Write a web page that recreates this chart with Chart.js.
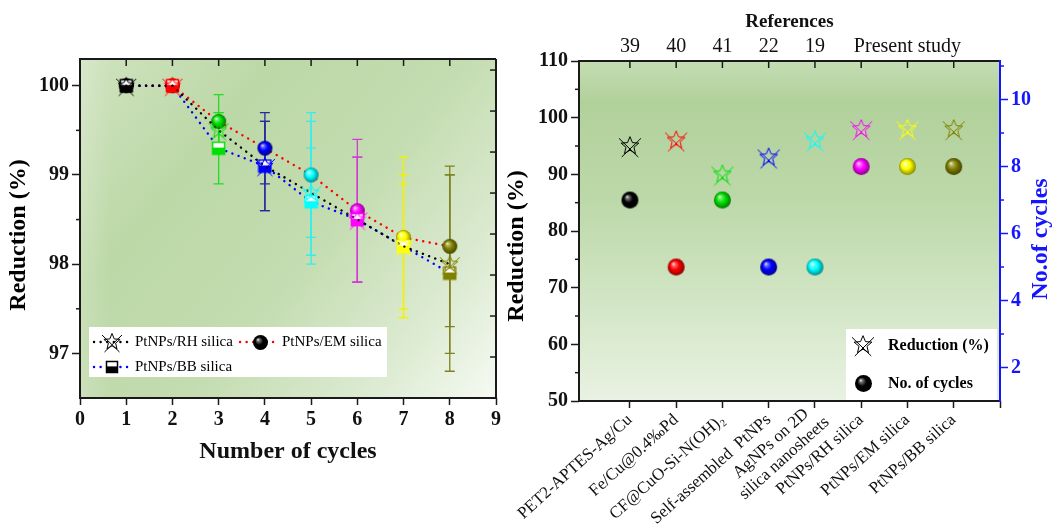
<!DOCTYPE html>
<html>
<head>
<meta charset="utf-8">
<script src="https://cdn.jsdelivr.net/npm/chart.js@4.4.1/dist/chart.umd.min.js"></script>
<style>
  html, body { margin: 0; padding: 0; background: #fff; }
  #wrap { position: relative; width: 1057px; height: 527px; overflow: hidden; }
  #cyc { position: absolute; left: 0; top: 0; }
  #refs { position: absolute; left: 440px; top: 0; }
</style>
</head>
<body>
<div id="wrap">
  <canvas id="cyc" width="520" height="527"></canvas>
  <canvas id="refs" width="617" height="527"></canvas>
</div>
<script>
// ---- reusability runs ----
const cycles = [1, 2, 3, 4, 5, 6, 7, 8];
const rhSilica = [100, 100, 99.5, 99.1, 98.8, 98.5, 98.2, 98.0];
const emSilica = [100, 100, 99.6, 99.3, 99.0, 98.6, 98.3, 98.2];
const bbSilica = [100, 100, 99.3, 99.1, 98.7, 98.5, 98.2, 97.9];
const rhErr = [0, 0, 0.2, 0.5, 0.8, 0.7, 0.8, 1.0];
const emErr = [0, 0, 0.3, 0.4, 0.7, 0.8, 0.9, 0.9];
const bbErr = [0, 0, 0.4, 0.5, 0.6, 0.7, 0.7, 1.1];
const cycleTicks = [0, 1, 2, 3, 4, 5, 6, 7, 8, 9];
const reductionTicks = [97, 98, 99, 100];
const reductionMinor = [97.5, 98.5, 99.5];
const mirrorTicks = [1, 2, 3, 4, 5, 6, 7, 8];

// ---- comparison with other catalysts ----
const catalysts = [
  'PET2-APTES-Ag/Cu',
  'Fe/Cu@0.4\u2030Pd',
  'CF@CuO-Si-N(OH)\u2082',
  'Self-assembled  PtNPs',
  ['AgNPs on 2D', 'silica nanosheets'],
  'PtNPs/RH silica',
  'PtNPs/EM silica',
  'PtNPs/BB silica'
];
const refNumbers = ['39', '40', '41', '22', '19', '', 'Present study', ''];
const reductionPct = [95, 96, 90, 93, 96, 98, 98, 98];
const cyclesUsed = [7, 5, 7, 5, 5, 8, 8, 8];
const slotTicks = [1, 2, 3, 4, 5, 6, 7, 8, 9];
const pctTicks = [50, 60, 70, 80, 90, 100, 110];
const pctMinor = [55, 65, 75, 85, 95, 105];
const countTicks = [2, 4, 6, 8, 10];
const countMinor = [3, 5, 7, 9, 11];

const pointColors = ['#000000', '#ff0000', '#00e000', '#0000ff', '#00ffff', '#ff00ff', '#ffff00', '#808000'];
const errorColors = ['#000000', '#ff0000', '#22dd22', '#2a2a9c', '#33eeee', '#d23cd2', '#f2f200', '#808020'];
const SERIF = "'Liberation Serif', 'Times New Roman', serif";
const AXIS_BLUE = '#1515ff';
const LABEL_ROT = 42;

// ---------- marker images ----------
function mix(hex, other, t) {
  const a = parseInt(hex.slice(1), 16), b = parseInt(other.slice(1), 16);
  const out = [16, 8, 0].map(s => {
    const p = (a >> s) & 255, q = (b >> s) & 255;
    return Math.round(p + (q - p) * t);
  });
  return 'rgb(' + out.join(',') + ')';
}

function sphere(color, r) {
  const c = document.createElement('canvas');
  const s = Math.ceil(r * 2 + 2);
  c.width = c.height = s;
  const g = c.getContext('2d');
  const m = s / 2;
  const grad = g.createRadialGradient(m - r * 0.35, m - r * 0.4, 0, m, m, r * 1.05);
  grad.addColorStop(0, '#ffffff');
  grad.addColorStop(0.18, mix(color, '#ffffff', 0.45));
  grad.addColorStop(0.5, color);
  grad.addColorStop(1, mix(color, '#000000', 0.5));
  g.fillStyle = grad;
  g.beginPath();
  g.arc(m, m, r, 0, Math.PI * 2);
  g.fill();
  return c;
}

function star(color, r) {
  const c = document.createElement('canvas');
  const s = Math.ceil(r * 2 + 4);
  c.width = c.height = s;
  const g = c.getContext('2d');
  const m = s / 2;
  g.strokeStyle = color;
  g.lineWidth = 1;
  g.beginPath();
  for (let k = 0; k <= 10; k++) {
    const ang = -Math.PI / 2 + k * Math.PI / 5;
    const rad = k % 2 ? r * 0.38 : r * 0.85;
    const px = m + Math.cos(ang) * rad, py = m + Math.sin(ang) * rad;
    if (k === 0) g.moveTo(px, py); else g.lineTo(px, py);
  }
  g.stroke();
  g.beginPath();
  g.moveTo(m - r, m - r * 0.7); g.lineTo(m + r * 0.75, m + r);
  g.moveTo(m + r, m - r * 0.7); g.lineTo(m - r * 0.75, m + r);
  g.stroke();
  return c;
}

function halfSquare(color, side) {
  const c = document.createElement('canvas');
  const s = side + 2;
  c.width = c.height = s;
  const g = c.getContext('2d');
  g.fillStyle = '#ffffff';
  g.fillRect(1, 1, side, side);
  g.fillStyle = color;
  g.fillRect(1, 1 + side * 0.45, side, side * 0.55);
  g.strokeStyle = color;
  g.lineWidth = 1.5;
  g.strokeRect(1.5, 1.5, side - 1, side - 1);
  return c;
}

// ---------- shared drawing helpers ----------
function tickMarks(chart, list) {
  const { ctx, chartArea: a } = chart;
  list.forEach(t => {
    const sc = chart.scales[t.axis];
    ctx.save();
    ctx.strokeStyle = t.color || '#1a1a1a';
    ctx.lineWidth = 1.5;
    t.values.forEach(v => {
      const p = sc.getPixelForValue(v);
      ctx.beginPath();
      if (t.side === 'top') { ctx.moveTo(p, a.top); ctx.lineTo(p, a.top + t.len); }
      if (t.side === 'bottom') { ctx.moveTo(p, a.bottom); ctx.lineTo(p, a.bottom - t.len); }
      if (t.side === 'left') { ctx.moveTo(a.left, p); ctx.lineTo(a.left + t.len, p); }
      if (t.side === 'right') { ctx.moveTo(a.right, p); ctx.lineTo(a.right - t.len, p); }
      ctx.stroke();
    });
    ctx.restore();
  });
}

function edge(ctx, x1, y1, x2, y2, color) {
  ctx.save();
  ctx.strokeStyle = color;
  ctx.lineWidth = 2;
  ctx.beginPath();
  ctx.moveTo(x1, y1);
  ctx.lineTo(x2, y2);
  ctx.stroke();
  ctx.restore();
}

function vTitle(ctx, text, x, y, color) {
  ctx.save();
  ctx.translate(x, y);
  ctx.rotate(-Math.PI / 2);
  ctx.font = 'bold 24px ' + SERIF;
  ctx.fillStyle = color;
  ctx.textAlign = 'center';
  ctx.textBaseline = 'middle';
  ctx.fillText(text, 0, 0);
  ctx.restore();
}

function dotted(ctx, x1, x2, y, color) {
  ctx.save();
  ctx.strokeStyle = color;
  ctx.lineWidth = 2.4;
  ctx.lineCap = 'round';
  ctx.setLineDash([0.1, 6.5]);
  ctx.beginPath();
  ctx.moveTo(x1, y);
  ctx.lineTo(x2, y);
  ctx.stroke();
  ctx.restore();
}

function place(ctx, img, x, y) {
  ctx.drawImage(img, Math.round(x - img.width / 2), Math.round(y - img.height / 2));
}

// ---------- left panel: reduction vs cycle ----------
const cycleDecor = {
  id: 'cycleDecor',
  beforeDraw(chart) {
    const { ctx, chartArea: a } = chart;
    const g = ctx.createLinearGradient(a.left, a.top, a.right, a.bottom);
    g.addColorStop(0, '#cfe3c0');
    g.addColorStop(0.28, '#bdd8a7');
    g.addColorStop(0.55, '#c3dcb0');
    g.addColorStop(0.8, '#dbead0');
    g.addColorStop(1, '#f6faf3');
    ctx.fillStyle = g;
    ctx.fillRect(a.left, a.top, a.width, a.height);
    const h = ctx.createLinearGradient(a.left, 0, a.left + 30, 0);
    h.addColorStop(0, 'rgba(255,255,255,0.18)');
    h.addColorStop(1, 'rgba(255,255,255,0)');
    ctx.fillStyle = h;
    ctx.fillRect(a.left, a.top, 30, a.height);
  },
  beforeDatasetsDraw(chart) {
    const { ctx } = chart;
    const xs = chart.scales.x, ys = chart.scales.y;
    ctx.save();
    ctx.lineWidth = 1.3;
    chart.data.datasets.forEach(ds => {
      ds.data.forEach((pt, i) => {
        const e = ds.errorBars[i];
        if (!e) return;
        const px = xs.getPixelForValue(pt.x);
        const top = ys.getPixelForValue(pt.y + e);
        const bot = ys.getPixelForValue(pt.y - e);
        ctx.strokeStyle = errorColors[i];
        ctx.beginPath();
        ctx.moveTo(px, top); ctx.lineTo(px, bot);
        ctx.moveTo(px - 5, top); ctx.lineTo(px + 5, top);
        ctx.moveTo(px - 5, bot); ctx.lineTo(px + 5, bot);
        ctx.stroke();
      });
    });
    ctx.restore();
  },
  afterDraw(chart) {
    const { ctx, chartArea: a } = chart;
    edge(ctx, a.left, a.top, a.right, a.top, '#1a1a1a');
    edge(ctx, a.right, a.top, a.right, a.bottom, '#1a1a1a');
    edge(ctx, a.left, a.top - 1, a.left, a.bottom + 1, '#1a1a1a');
    edge(ctx, a.left - 1, a.bottom, a.right + 1, a.bottom, '#1a1a1a');
    tickMarks(chart, [
      { axis: 'x', side: 'top', values: mirrorTicks, len: 7 },
      { axis: 'y2', side: 'right', values: mirrorTicks, len: 6 },
      { axis: 'y', side: 'left', values: reductionMinor, len: -4 }
    ]);
    vTitle(ctx, 'Reduction (%)', 19, 235, '#000');

    // legend
    ctx.save();
    ctx.fillStyle = '#ffffff';
    ctx.fillRect(89, 327, 298, 50);
    ctx.font = '15px ' + SERIF;
    ctx.fillStyle = '#000';
    ctx.textBaseline = 'middle';
    dotted(ctx, 94, 131, 342, '#000');
    place(ctx, star('#000000', 10), 112, 342);
    ctx.fillText('PtNPs/RH silica', 135, 342);
    dotted(ctx, 240, 277, 342, '#ff0000');
    place(ctx, sphere('#000000', 7.5), 260, 342);
    ctx.fillText('PtNPs/EM silica', 282, 342);
    dotted(ctx, 94, 131, 367, '#0000ff');
    place(ctx, halfSquare('#000000', 12), 112, 367);
    ctx.fillText('PtNPs/BB silica', 135, 367);
    ctx.restore();
  }
};

function series(values, errors, lineColor, markers, label) {
  return {
    label: label,
    data: cycles.map((c, i) => ({ x: c, y: values[i] })),
    errorBars: errors,
    showLine: true,
    borderColor: lineColor,
    borderWidth: 2.4,
    borderDash: [0.1, 6.5],
    borderCapStyle: 'round',
    pointStyle: markers,
    pointRadius: 8
  };
}

const tickFont = { family: SERIF, size: 20, weight: 'bold' };

new Chart(document.getElementById('cyc'), {
  type: 'scatter',
  data: {
    datasets: [
      series(rhSilica, rhErr, '#000000', pointColors.map(c => star(c, 10)), 'PtNPs/RH silica'),
      series(bbSilica, bbErr, '#0000ff', pointColors.map(c => halfSquare(c, 13)), 'PtNPs/BB silica'),
      series(emSilica, emErr, '#ff0000', pointColors.map(c => sphere(c, 7.5)), 'PtNPs/EM silica')
    ]
  },
  options: {
    responsive: false,
    animation: false,
    events: [],
    layout: { padding: { top: 59, left: 0, right: 0, bottom: 0 } },
    plugins: { legend: { display: false }, tooltip: { enabled: false } },
    scales: {
      x: {
        type: 'linear', min: 0, max: 9,
        afterBuildTicks: s => { s.ticks = cycleTicks.map(v => ({ value: v })); },
        afterFit: s => { s.height = 129; },
        ticks: { font: tickFont, color: '#111', padding: 3, maxRotation: 0 },
        grid: { drawOnChartArea: false, tickLength: 7, tickColor: '#1a1a1a', tickWidth: 1.5 },
        border: { display: false },
        title: {
          display: true, text: 'Number of cycles', color: '#111',
          font: { family: SERIF, size: 24, weight: 'bold' },
          padding: { top: 0, bottom: 61 }
        }
      },
      y: {
        min: 96.5, max: 100.3,
        afterBuildTicks: s => { s.ticks = reductionTicks.map(v => ({ value: v })); },
        afterFit: s => { s.width = 80; },
        ticks: { font: tickFont, color: '#111', padding: 3 },
        grid: { drawOnChartArea: false, tickLength: 8, tickColor: '#1a1a1a', tickWidth: 1.5 },
        border: { display: false }
      },
      y2: {
        position: 'right', min: 0, max: 8.27,
        afterBuildTicks: s => { s.ticks = mirrorTicks.map(v => ({ value: v })); },
        afterFit: s => { s.width = 24; },
        ticks: { display: false },
        grid: { display: false },
        border: { display: false }
      }
    }
  },
  plugins: [cycleDecor]
});

// ---------- right panel: comparison with literature ----------
const refDecor = {
  id: 'refDecor',
  beforeDraw(chart) {
    const { ctx, chartArea: a } = chart;
    const g = ctx.createLinearGradient(0, a.top, 0, a.bottom);
    g.addColorStop(0, '#c4ddb3');
    g.addColorStop(0.12, '#b1d19b');
    g.addColorStop(0.4, '#bcd8a8');
    g.addColorStop(0.75, '#d5e7c9');
    g.addColorStop(1, '#e9f2e3');
    ctx.fillStyle = g;
    ctx.fillRect(a.left, a.top, a.width, a.height);
  },
  afterDraw(chart) {
    const { ctx, chartArea: a } = chart;
    edge(ctx, a.left, a.top, a.right, a.top, '#1a1a1a');
    edge(ctx, a.left, a.top - 1, a.left, a.bottom + 1, '#1a1a1a');
    edge(ctx, a.left - 1, a.bottom, a.right, a.bottom, '#1a1a1a');
    edge(ctx, a.right, a.top - 1, a.right, a.bottom + 1, AXIS_BLUE);
    tickMarks(chart, [
      { axis: 'x', side: 'top', values: mirrorTicks, len: 7 },
      { axis: 'y', side: 'left', values: pctMinor, len: -4 },
      { axis: 'y2', side: 'right', values: countMinor, len: -4, color: AXIS_BLUE }
    ]);
    vTitle(ctx, 'Reduction (%)', 77, 246, '#000');
    vTitle(ctx, 'No.of cycles', 601, 239, AXIS_BLUE);

    // two-line category names, centred on each other
    const xs = chart.scales.x;
    catalysts.forEach((lab, i) => {
      if (!Array.isArray(lab)) return;
      const px = xs.getPixelForValue(i + 1);
      ctx.save();
      ctx.translate(px + 12, a.bottom + 19);
      ctx.rotate(-LABEL_ROT * Math.PI / 180);
      ctx.font = '17px ' + SERIF;
      ctx.fillStyle = '#111';
      ctx.textBaseline = 'middle';
      const w = ctx.measureText(lab[1]).width;
      ctx.textAlign = 'right';
      ctx.fillText(lab[1], 0, 0);
      ctx.textAlign = 'center';
      ctx.fillText(lab[0], -w / 2, -20);
      ctx.restore();
    });

    // legend
    ctx.save();
    ctx.fillStyle = '#ffffff';
    ctx.fillRect(406, 329, 151, 71);
    place(ctx, star('#000000', 11), 423, 345);
    place(ctx, sphere('#000000', 8.5), 423, 383);
    ctx.font = 'bold 16px ' + SERIF;
    ctx.fillStyle = '#000';
    ctx.textBaseline = 'middle';
    ctx.fillText('Reduction (%)', 448, 346);
    ctx.fillText('No. of cycles', 448, 384);
    ctx.restore();
  }
};

new Chart(document.getElementById('refs'), {
  type: 'scatter',
  data: {
    datasets: [
      {
        label: 'Reduction (%)',
        data: reductionPct.map((v, i) => ({ x: i + 1, y: v })),
        yAxisID: 'y',
        pointStyle: pointColors.map(c => star(c, 11)),
        pointRadius: 9
      },
      {
        label: 'No. of cycles',
        data: cyclesUsed.map((v, i) => ({ x: i + 1, y: v })),
        yAxisID: 'y2',
        pointStyle: pointColors.map(c => sphere(c, 8.5)),
        pointRadius: 9
      }
    ]
  },
  options: {
    responsive: false,
    animation: false,
    events: [],
    layout: { padding: 0 },
    plugins: { legend: { display: false }, tooltip: { enabled: false } },
    scales: {
      x: {
        type: 'linear', min: -0.1, max: 9,
        afterBuildTicks: s => { s.ticks = slotTicks.map(v => ({ value: v })); },
        afterFit: s => { s.height = 126; },
        ticks: {
          // multi-line names are drawn by refDecor
          callback: v => {
            const lab = catalysts[v - 1];
            return Array.isArray(lab) ? '' : (lab || '');
          },
          font: { family: SERIF, size: 17 }, color: '#111',
          minRotation: LABEL_ROT, maxRotation: LABEL_ROT, autoSkip: false, padding: 2
        },
        grid: { drawOnChartArea: false, tickLength: 7, tickColor: '#1a1a1a', tickWidth: 1.5 },
        border: { display: false }
      },
      xTop: {
        type: 'linear', position: 'top', min: -0.1, max: 9,
        afterBuildTicks: s => { s.ticks = mirrorTicks.map(v => ({ value: v })); },
        afterFit: s => { s.height = 61; },
        ticks: {
          callback: v => refNumbers[v - 1] || '',
          font: { family: SERIF, size: 20 }, color: '#111',
          maxRotation: 0, minRotation: 0, autoSkip: false, padding: 2
        },
        grid: { drawOnChartArea: false, drawTicks: false },
        border: { display: false },
        title: {
          display: true, text: 'References', color: '#111',
          font: { family: SERIF, size: 19, weight: 'bold' },
          padding: { top: 11, bottom: 0 }
        }
      },
      y: {
        min: 50, max: 110,
        afterBuildTicks: s => { s.ticks = pctTicks.map(v => ({ value: v })); },
        afterFit: s => { s.width = 139; },
        ticks: { font: tickFont, color: '#111', padding: 3 },
        grid: { drawOnChartArea: false, tickLength: 8, tickColor: '#1a1a1a', tickWidth: 1.5 },
        border: { display: false }
      },
      y2: {
        position: 'right', min: 1, max: 11.15,
        afterBuildTicks: s => { s.ticks = countTicks.map(v => ({ value: v })); },
        afterFit: s => { s.width = 57; },
        ticks: { font: tickFont, color: AXIS_BLUE, padding: 3 },
        grid: { drawOnChartArea: false, tickLength: 8, tickColor: AXIS_BLUE, tickWidth: 1.5 },
        border: { display: false }
      }
    }
  },
  plugins: [refDecor]
});
</script>
</body>
</html>
